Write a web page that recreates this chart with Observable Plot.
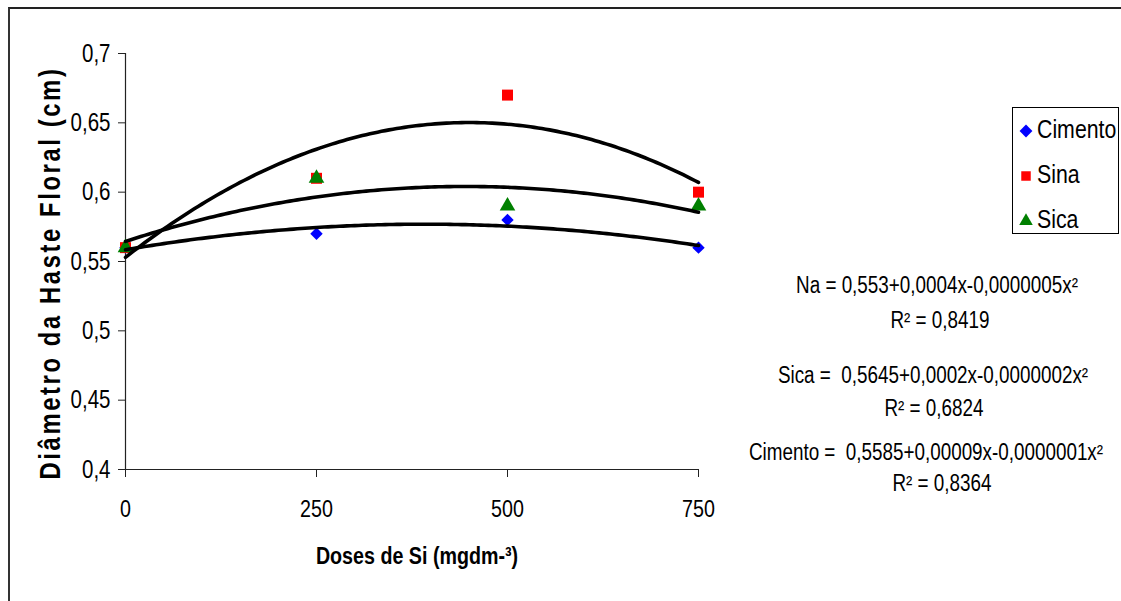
<!DOCTYPE html>
<html>
<head>
<meta charset="utf-8">
<script src="https://cdn.jsdelivr.net/npm/d3@7"></script>
<script src="https://cdn.jsdelivr.net/npm/@observablehq/plot@0.6"></script>
<style>
  html, body { margin: 0; padding: 0; background: #fff; }
  #wrap { position: relative; width: 1121px; height: 601px; overflow: hidden; }
  #frame { position: absolute; left: 8px; top: 7px; width: 1200px; height: 700px; border-top: 2px solid #222; border-left: 2px solid #333; box-sizing: border-box; }
  #chart { position: absolute; left: 0; top: 0; }
</style>
</head>
<body>
<div id="wrap"><div id="frame"></div><div id="chart"></div></div>
<script>
// ---- data ----
const doses = [0, 250, 500, 750];
const cimento = [0.56, 0.57, 0.58, 0.56];
const sina = [0.56, 0.61, 0.67, 0.60];
const sica = [0.56, 0.61, 0.59, 0.59];
const seriesNames = ["Cimento", "Sina", "Sica"];
const seriesColors = ["#0000FF", "#FF0000", "#008000"];
const seriesSymbols = ["diamond2", "square", "triangle"];
const xTicks = [0, 250, 500, 750];
const yTicks = [0.4, 0.45, 0.5, 0.55, 0.6, 0.65, 0.7];
const equationTexts = [
  "Na = 0,553+0,0004x-0,0000005x²",
  "Sica =  0,5645+0,0002x-0,0000002x²",
  "Cimento =  0,5585+0,00009x-0,0000001x²"
];
const r2Values = ["0,8419", "0,6824", "0,8364"];
const yTitle = "Diâmetro da Haste Floral (cm)";
const xTitle = "Doses de Si (mgdm-³)";

// ---- build table ----
const valuesBySeries = [cimento, sina, sica];
const points = [];
valuesBySeries.forEach((vals, si) => vals.forEach((v, i) => points.push({series: seriesNames[si], x: doses[i], y: v})));

// least-squares quadratic trend (the spreadsheet's polynomial trendline, fitted to the points)
function quadFit(xs, ys) {
  const n = xs.length;
  let s = [0,0,0,0,0], t = [0,0,0];
  for (let i = 0; i < n; i++) {
    const x = xs[i], y = ys[i];
    for (let k = 0; k < 5; k++) s[k] += Math.pow(x, k);
    for (let k = 0; k < 3; k++) t[k] += y * Math.pow(x, k);
  }
  const A = [[s[0], s[1], s[2], t[0]], [s[1], s[2], s[3], t[1]], [s[2], s[3], s[4], t[2]]];
  for (let c = 0; c < 3; c++) {
    let p = c; for (let r = c+1; r < 3; r++) if (Math.abs(A[r][c]) > Math.abs(A[p][c])) p = r;
    [A[c], A[p]] = [A[p], A[c]];
    for (let r = 0; r < 3; r++) if (r !== c) {
      const f = A[r][c] / A[c][c];
      for (let k = c; k < 4; k++) A[r][k] -= f * A[c][k];
    }
  }
  return [A[0][3]/A[0][0], A[1][3]/A[1][1], A[2][3]/A[2][2]];
}
const trends = [];
valuesBySeries.forEach((vals, si) => {
  const [a, b, c] = quadFit(doses, vals);
  for (let x = 0; x <= 750; x += 5) trends.push({series: seriesNames[si], x, y: a + b*x + c*x*x});
});

const FONT = "'Liberation Sans', Arial, sans-serif";
const NARROW = 0.82; // Arial Narrow look: horizontal scale of Arial
const fmtY = d => String(d).replace(".", ",");

const dotR = [5.6, 6.2, 5.8];
const chart = Plot.plot({
  width: 1121,
  height: 601,
  marginLeft: 125,
  marginRight: 423,
  marginTop: 53,
  marginBottom: 132,
  style: {fontFamily: FONT, background: "transparent", color: "#000"},
  x: {domain: [0, 750]},
  y: {domain: [0.4, 0.7]},
  marks: [
    Plot.axisX({ticks: xTicks, tickFormat: d => String(d), tickSize: 8, tickPadding: 22, fontSize: 24, label: null, stroke: "#222"}),
    Plot.axisY({ticks: yTicks, tickFormat: fmtY, tickSize: 7, tickPadding: 8, fontSize: 25, label: null, stroke: "#222"}),
    Plot.ruleX([0], {stroke: "#222", strokeWidth: 1.2}),
    Plot.ruleY([0.4], {stroke: "#222", strokeWidth: 1.2}),
    ...seriesNames.map((name, si) =>
      Plot.dot(points.filter(d => d.series === name), {x: "x", y: "y", symbol: seriesSymbols[si], fill: seriesColors[si], r: dotR[si], stroke: "none"})),
    Plot.line(trends, {x: "x", y: "y", z: "series", stroke: "#000", strokeWidth: 3.6})
  ]
});
document.getElementById("chart").appendChild(chart);

// condense Plot's tick labels horizontally (Arial Narrow look) without moving their anchors
d3.select(chart).selectAll("text").each(function() {
  const w = this.getComputedTextLength();
  if (w > 0) { this.setAttribute("textLength", w * NARROW); this.setAttribute("lengthAdjust", "spacingAndGlyphs"); }
});

const svg = d3.select(chart);
// helper: narrow text placed at (x, y) by a transform
function addText(x, y, str, opts = {}) {
  return svg.append("text")
    .attr("transform", `translate(${x},${y})${opts.rotate ? ` rotate(${opts.rotate})` : ""} scale(${NARROW},1)`)
    .attr("text-anchor", opts.anchor || "middle")
    .attr("dominant-baseline", "central")
    .attr("font-family", FONT)
    .attr("font-weight", opts.bold ? "bold" : "normal")
    .attr("font-size", opts.size || 23)
    .attr("letter-spacing", opts.spacing || 0)
    .text(str);
}

// axis titles
addText(50, 273, yTitle, {rotate: -90, bold: true, size: 29, spacing: 3.2});
addText(417, 556, xTitle, {bold: true, size: 24});

// legend
const lg = svg.append("g");
lg.append("rect").attr("x", 1012.5).attr("y", 107.5).attr("width", 106).attr("height", 126)
  .attr("fill", "#fff").attr("stroke", "#000").attr("stroke-width", 1);
const legY = [129, 174, 219];
const legSym = [d3.symbolDiamond2, d3.symbolSquare, d3.symbolTriangle];
const legSize = [105, 90, 80];
seriesNames.forEach((name, i) => {
  lg.append("path").attr("d", d3.symbol().type(legSym[i]).size(legSize[i])())
    .attr("transform", `translate(1026,${legY[i] + 2})`).attr("fill", seriesColors[i]);
  addText(1037, legY[i], name, {anchor: "start", size: 26});
});

// equations
const eqPos = [[937, 285, 940, 320], [933, 375, 934, 408], [926, 452, 942, 483]];
equationTexts.forEach((txt, i) => {
  const [ex, ey, rx, ry] = eqPos[i];
  addText(ex, ey, txt, {size: 23});
  addText(rx, ry, "R² = " + r2Values[i], {size: 23});
});
</script>
</body>
</html>
